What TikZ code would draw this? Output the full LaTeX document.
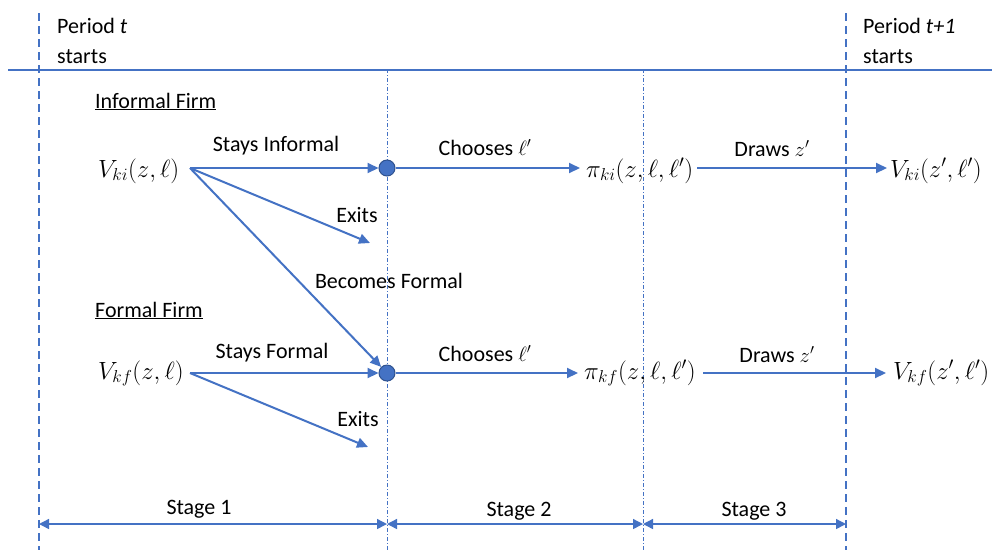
\documentclass[tikz,border=0pt]{standalone}
\usepackage{fontspec}
\setmainfont{Carlito}
\usetikzlibrary{arrows.meta}
\definecolor{blu}{HTML}{4472C4}
\definecolor{bludark}{HTML}{2F528F}
\begin{document}
\begin{tikzpicture}[x=1pt,y=-1pt,
  lbl/.style={font=\fontsize{22}{26}\selectfont, inner sep=0pt, anchor=base},
  lblw/.style={font=\fontsize{22}{26}\selectfont, inner sep=0pt, anchor=base west},
  mth/.style={font=\fontsize{23.5}{28}\selectfont, inner sep=0pt, anchor=base west},
  arr/.style={blu, line width=2pt, -{Triangle[length=11pt,width=10pt]}},
  stagearr/.style={blu, line width=1.4pt, {Triangle[length=10pt,width=10pt]}-{Triangle[length=10pt,width=10pt]}},
  dot/.style={circle, fill=blu, draw=bludark, line width=1pt, minimum size=16pt, inner sep=0pt},
  periodline/.style={blu, line width=1.6pt, dash pattern=on 8pt off 5pt},
  stageline/.style={blu, line width=1pt, dash pattern=on 4pt off 2pt on 1pt off 2pt}]
\useasboundingbox (0,0) rectangle (992,550);
\fill[white] (0,0) rectangle (992,550);
% vertical lines
\draw[periodline] (39,13) -- (39,550);
\draw[periodline] (846,13) -- (846,550);
\draw[stageline] (387,69) -- (387,550);
\draw[stageline] (643,69) -- (643,550);
% horizontal line
\draw[blu, line width=1.8pt] (8,70) -- (992,70);
% period labels
\node[lblw] (p1a) at (57,33) {Period \textit{t}};
\node[lblw] (p1b) at (57,63) {starts};
\node[lblw] (p2a) at (863,33) {Period \textit{t+1}};
\node[lblw] (p2b) at (863,63) {starts};
% firm headers
\node[lblw] (hinf) at (95,108) {\underline{Informal Firm}};
\node[lblw] (hfor) at (95,317) {\underline{Formal Firm}};
% informal row
\node[mth] (vki) at (98,177) {$V_{ki}(z,\ell)$};
\coordinate (o1) at (190,168);
\node[dot] (c1) at (387,168) {};
\node[mth] (pki) at (586,177) {$\pi_{ki}(z,\ell,\ell')$};
\node[mth] (vki2) at (890,177) {$V_{ki}(z',\ell')$};
\coordinate (e1) at (370,243);
% formal row
\node[mth] (vkf) at (98,379) {$V_{kf}(z,\ell)$};
\coordinate (o2) at (190,373);
\node[dot] (c2) at (387,373) {};
\node[mth] (pkf) at (584,379) {$\pi_{kf}(z,\ell,\ell')$};
\node[mth] (vkf2) at (893,379) {$V_{kf}(z',\ell')$};
\coordinate (e2) at (368,447);
% arrows informal
\draw[arr] (o1) -- (c1);
\draw[arr] (o1) -- (e1);
\draw[arr] (o1) -- (c2);
\draw[arr] (c1) -- (580,168) coordinate (t1);
\draw[arr] (697,168) coordinate (s1) -- (887,168);
% arrows formal
\draw[arr] (o2) -- (c2);
\draw[arr] (o2) -- (e2);
\draw[arr] (c2) -- (578,373) coordinate (t2);
\draw[arr] (703,373) coordinate (s2) -- (886,373);
% arrow labels
\node[lbl] (lsi) at (276,151) {Stays Informal};
\node[lbl] (lex1) at (357,222) {Exits};
\node[lbl] (lbf) at (389,288) {Becomes Formal};
\node[lbl] (lch1) at (485,155) {Chooses $\ell'$};
\node[lbl] (ldr1) at (772,156) {Draws $z'$};
\node[lbl] (lsf) at (272,358) {Stays Formal};
\node[lbl] (lex2) at (358,426) {Exits};
\node[lbl] (lch2) at (485,361) {Chooses $\ell'$};
\node[lbl] (ldr2) at (777,362) {Draws $z'$};
% stages
\coordinate (b0) at (39,524);
\coordinate (b1) at (387,524);
\coordinate (b2) at (643,524);
\coordinate (b3) at (846,524);
\draw[stagearr] (b0) -- (b1);
\draw[stagearr] (b1) -- (b2);
\draw[stagearr] (b2) -- (b3);
\node[lbl] (st1) at (199,514) {Stage 1};
\node[lbl] (st2) at (519,516) {Stage 2};
\node[lbl] (st3) at (754,516) {Stage 3};
\end{tikzpicture}
\end{document}
